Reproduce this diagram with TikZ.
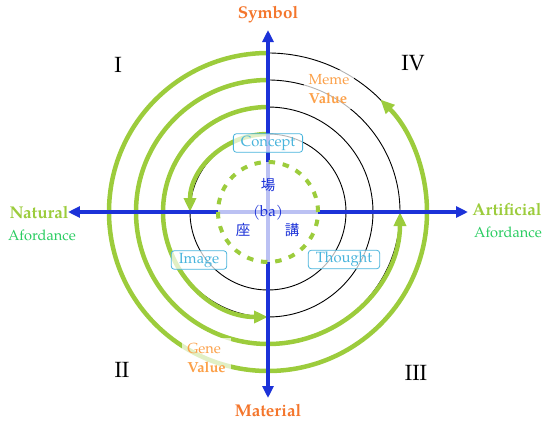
\documentclass[tikz,border=0pt]{standalone}
\usepackage{fontspec}
\setmainfont{TeX Gyre Pagella}
\newfontfamily\cjk{Noto Sans CJK JP}
\usetikzlibrary{arrows.meta}
\usetikzlibrary{positioning}

\definecolor{axisblue}{RGB}{28,50,216}
\definecolor{leaf}{RGB}{156,204,60}
\definecolor{rust}{RGB}{244,118,44}
\definecolor{peach}{RGB}{252,160,72}
\definecolor{mint}{RGB}{40,204,96}
\definecolor{sky}{RGB}{72,180,220}

\begin{document}
\begin{tikzpicture}[x=1pt,y=1pt,
  axis line/.style={axisblue,line width=4.5pt,{Triangle[length=12pt,width=11pt]}-{Triangle[length=12pt,width=11pt]}},
  ring/.style={black,line width=0.9pt},
  spiral arc/.style={leaf,line width=4.5pt,-{Triangle[length=14pt,width=12pt]}},
  tag box/.style={draw=sky,text=sky,rounded corners=3pt,fill=white,fill opacity=0.7,text opacity=1,
    line width=0.8pt,inner xsep=7.5pt,inner ysep=1.5pt,minimum height=18.5pt,font=\fontsize{14.8}{16}\selectfont},
  value tag/.style={text=peach,fill=white,fill opacity=0.7,text opacity=1,align=left,inner sep=5pt,
    font=\fontsize{14.6}{19}\selectfont},
  pole label/.style={inner sep=0pt,font=\fontsize{17}{20}\selectfont\bfseries},
  sub label/.style={mint,inner sep=0pt,font=\fontsize{14.6}{16}\selectfont},
  quad num/.style={inner sep=0pt,font=\fontsize{22}{24}\selectfont},
  core text/.style={axisblue,inner sep=0pt,font=\fontsize{15.2}{16}\selectfont}]

  \useasboundingbox (-268,-212) rectangle (283,212);

  % rings
  \foreach \r in {78,105,132,159}
    \draw[ring] (0,0) circle (\r pt);

  % spiral
  \draw[spiral arc] (0,78) arc[start angle=90,end angle=180,radius=78pt];
  \draw[spiral arc] (0,105) arc[start angle=90,end angle=270,radius=105pt];
  \draw[spiral arc] (0,132) arc[start angle=90,end angle=360,radius=132pt];
  \draw[spiral arc] (0,159) arc[start angle=90,end angle=405,radius=159pt];

  % axes
  \coordinate (west) at (-200,0);
  \coordinate (east) at (200,0);
  \coordinate (north) at (0,182);
  \coordinate (south) at (0,-186);
  \draw[axis line] (west) -- (east);
  \draw[axis line] (south) -- (north);

  \fill[white,opacity=0.7] (0,0) circle (50pt);
  \draw[leaf,line width=4pt,dash pattern=on 6.5pt off 7.78pt] (0,0) circle (50pt);

  \node[core text] (ba) at (0,-1) {(ba)};
  \node[core text,font=\cjk\fontsize{14.5}{16}\selectfont] (place) at (0,27) {場};
  \node[core text,font=\cjk\fontsize{14.5}{16}\selectfont] (seat) at (-25,-18) {座};
  \node[core text,font=\cjk\fontsize{14.5}{16}\selectfont] (lecture) at (24,-18) {講};

  \node[tag box] (concept) at (0,69) {Concept};
  \node[tag box] (image) at (-69,-48) {Image};
  \node[tag box] (thought) at (76,-47.5) {Thought};

  \node[value tag] (meme) at (61,122.5) {Meme\\\textbf{Value}};
  \node[value tag] (gene) at (-61.5,-145.5) {Gene\\\textbf{Value}};

  \node[pole label,rust] (symbol) at (0,197) {Symbol};
  \node[pole label,rust] (material) at (0,-199) {Material};
  \node[pole label,leaf] (natural) at (-229,-1) {Natural};
  \node[sub label] (natural afford) at (-226,-23) {Afordance};
  \node[pole label,leaf] (artificial) at (239,2) {Artificial};
  \node[sub label] (artificial afford) at (240,-20) {Afordance};

  \node[quad num] (q1) at (-150,147) {I};
  \node[quad num] (q4) at (145,149) {IV};
  \node[quad num] (q2) at (-146,-158) {II};
  \node[quad num] (q3) at (148,-161) {III};

\end{tikzpicture}
\end{document}
